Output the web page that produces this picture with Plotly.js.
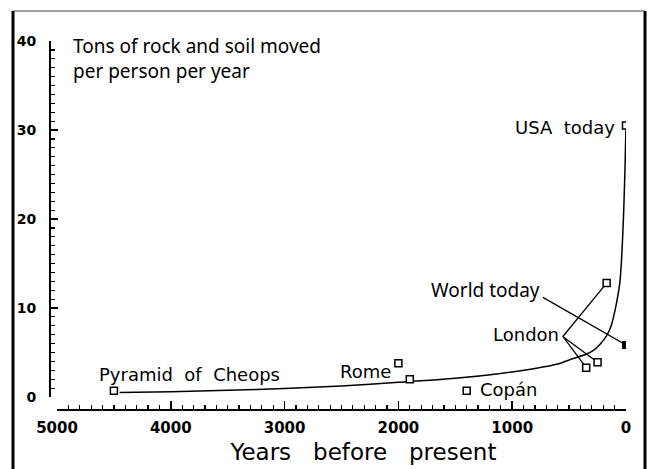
<!DOCTYPE html>
<html>
<head>
<meta charset="utf-8">
<script src="https://cdn.plot.ly/plotly-3.0.1.min.js"></script>
<style>html,body{margin:0;padding:0;background:#fff}#chart{width:648px;height:469px}</style>
</head>
<body>
<div id="chart"></div>
<script>
// Smooth trend curve (years before present, tons per person per year)
var curveYears = [4450, 4000, 3500, 3000, 2500, 2000, 1500, 1100, 800, 600, 470, 350, 290, 230, 170, 130, 97, 70, 53, 35, 20, 8, 0];
var curveTons  = [0.5, 0.6, 0.75, 0.95, 1.25, 1.65, 2.1, 2.65, 3.2, 3.7, 4.3, 4.8, 5.2, 5.9, 6.9, 8.0, 9.7, 11.5, 13.0, 16.4, 21.0, 26.0, 30.5];

// Observed points (open squares)
var pointNames = ["Pyramid of Cheops", "Rome", "Rome", "Copán", "London", "London", "London", "USA today"];
var pointYears = [4500, 2000, 1900, 1400, 350, 250, 170, 0];
var pointTons  = [0.7, 3.8, 2.0, 0.7, 3.3, 3.9, 12.8, 30.5];

// World today (filled square)
var worldYears = [0];
var worldTons  = [5.85];

// Leader lines: label anchor -> point
var londonAnchor = [555, 6.8];
var worldAnchor  = [730, 11.2];

var leaderX = [londonAnchor[0], pointYears[4], null,
               londonAnchor[0], pointYears[5], null,
               londonAnchor[0], pointYears[6], null,
               worldAnchor[0], worldYears[0]];
var leaderY = [londonAnchor[1], pointTons[4], null,
               londonAnchor[1], pointTons[5], null,
               londonAnchor[1], pointTons[6], null,
               worldAnchor[1], worldTons[0]];

var xTicks = [5000, 4000, 3000, 2000, 1000, 0];
var yTicks = [0, 10, 20, 30, 40];

var labelFont = {family: "DejaVu Sans", size: 18, color: "black"};
var handFont  = {family: "Noto Sans", size: 19, color: "black"};

var traces = [
  {x: curveYears, y: curveTons, mode: "lines", line: {color: "black", width: 1.5, shape: "spline", smoothing: 0.6}, hoverinfo: "skip", showlegend: false},
  {x: leaderX, y: leaderY, mode: "lines", line: {color: "black", width: 1.3}, hoverinfo: "skip", showlegend: false},
  {x: pointYears, y: pointTons, text: pointNames, mode: "markers", marker: {symbol: "square", size: 7, color: "white", line: {color: "black", width: 1.5}}, showlegend: false},
  {x: worldYears, y: worldTons, mode: "markers", marker: {symbol: "square", size: 7, color: "black", line: {color: "black", width: 1}}, showlegend: false}
];

var layout = {
  width: 648, height: 469,
  margin: {l: 50, r: 22, t: 41, b: 59, pad: 0},
  paper_bgcolor: "white", plot_bgcolor: "white",
  showlegend: false,
  title: {
    text: "Tons of rock and soil moved<br>per person per year",
    x: 73/648, xanchor: "left", xref: "container",
    y: 1 - 53/469, yanchor: "top", yref: "container",
    font: {family: "Noto Sans", size: 19, color: "black"}
  },
  xaxis: {
    range: [5000, 0], domain: [7/576, 1], anchor: "free", position: 0,
    tickvals: xTicks, ticktext: xTicks.map(String),
    ticks: "inside", ticklen: 8, tickwidth: 1.5, tickcolor: "black",
    minor: {dtick: 100, ticks: "inside", ticklen: 4, tickwidth: 1.2, tickcolor: "black", showgrid: false},
    showline: true, linecolor: "black", linewidth: 2,
    showgrid: false, zeroline: false,
    tickfont: {family: "DejaVu Sans", size: 15, color: "black", weight: "bold"},
    ticklabelstandoff: 4,
    title: {text: "&nbsp;&nbsp;&nbsp;&nbsp;&nbsp;&nbsp;Years   before   present", font: {family: "DejaVu Sans", size: 23, color: "black"}, standoff: 7}
  },
  yaxis: {
    range: [0, 40], domain: [13/369, 1], anchor: "free", position: 0,
    tickvals: yTicks, ticktext: yTicks.map(String),
    ticks: "inside", ticklen: 7, tickwidth: 1.5, tickcolor: "black",
    minor: {dtick: 1, ticks: "inside", ticklen: 4, tickwidth: 1.2, tickcolor: "black", showgrid: false},
    showline: true, linecolor: "black", linewidth: 2,
    showgrid: false, zeroline: false,
    tickfont: {family: "DejaVu Sans", size: 14, color: "black", weight: "bold"},
    ticklabelstandoff: 10
  },
  annotations: [
    {x: 4650, y: 2.5, xref: "x", yref: "y", text: "Pyramid  of  Cheops", showarrow: false, xanchor: "left", yanchor: "middle", font: labelFont},
    {x: 2045, y: 2.9, xref: "x", yref: "y", text: "Rome", showarrow: false, xanchor: "right", yanchor: "middle", font: labelFont},
    {x: 1300, y: 0.8, xref: "x", yref: "y", text: "Copán", showarrow: false, xanchor: "left", yanchor: "middle", font: labelFont},
    {x: 575, y: 7.0, xref: "x", yref: "y", text: "London", showarrow: false, xanchor: "right", yanchor: "middle", font: labelFont},
    {x: 740, y: 12.0, xref: "x", yref: "y", text: "World today", showarrow: false, xanchor: "right", yanchor: "middle", font: handFont},
    {x: 80, y: 30.3, xref: "x", yref: "y", text: "USA  today", showarrow: false, xanchor: "right", yanchor: "middle", font: labelFont}
  ],
  shapes: [
    {type: "line", xref: "paper", yref: "paper", x0: -37/576, x1: -37/576, y0: 1 + 30/369, y1: -0.3, line: {color: "black", width: 3}},
    {type: "line", xref: "paper", yref: "paper", x0: 595/576, x1: 595/576, y0: 1 + 30/369, y1: -0.3, line: {color: "black", width: 3}},
    {type: "line", xref: "paper", yref: "paper", x0: -37/576, x1: 595/576, y0: 1 + 30/369, y1: 1 + 30/369, line: {color: "#444", width: 1.2}}
  ]
};

Plotly.newPlot("chart", traces, layout, {staticPlot: true, displayModeBar: false});
</script>
</body>
</html>
